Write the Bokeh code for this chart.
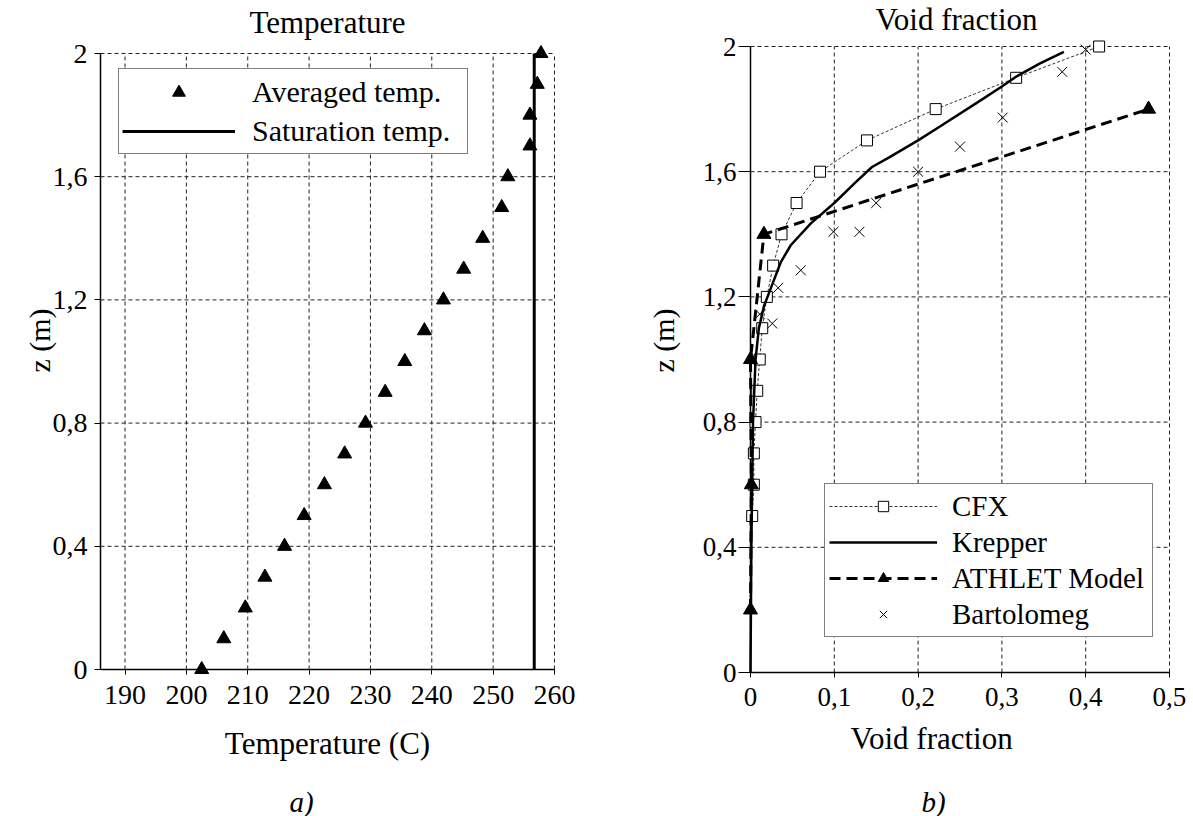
import math

from bokeh.embed import file_html
from bokeh.layouts import column, row
from bokeh.models import (CustomJSTickFormatter, FixedTicker, Label, Legend,
                          LegendItem, Range1d)
from bokeh.plotting import figure
from bokeh.resources import INLINE

# ---------------- data ----------------
# (a) temperature profile along the heated channel
z_temp = [0.0, 0.1, 0.2, 0.3, 0.4, 0.5, 0.6, 0.7, 0.8, 0.9, 1.0,
          1.1, 1.2, 1.3, 1.4, 1.5, 1.6, 1.7, 1.8, 1.9, 2.0]
avg_temp = [202.5, 206.1, 209.6, 212.8, 216.0, 219.2, 222.5, 225.8, 229.2, 232.4, 235.6,
            238.8, 241.9, 245.2, 248.3, 251.4, 252.4, 256.0, 256.0, 257.2, 257.8]
sat_temp = 256.7
sat_z = [0.0, 2.0]

# (b) void fraction profiles
cfx_z = [0.5, 0.6, 0.7, 0.8, 0.9, 1.0, 1.1, 1.2, 1.3, 1.4, 1.5, 1.6, 1.7, 1.8, 1.9, 2.0]
cfx_void = [0.002, 0.004, 0.004, 0.006, 0.008, 0.011, 0.014, 0.0195, 0.027, 0.037,
            0.055, 0.083, 0.139, 0.221, 0.317, 0.416]

krepper_z = [0.0, 0.4, 0.8, 1.0, 1.1, 1.17, 1.24, 1.31, 1.365, 1.435, 1.5, 1.565,
             1.615, 1.645, 1.7, 1.746, 1.82, 1.872, 1.902, 1.945, 1.983]
krepper_void = [0.0, 0.001, 0.003, 0.006, 0.010, 0.016, 0.026, 0.036, 0.048, 0.072, 0.100,
                0.125, 0.145, 0.165, 0.200, 0.227, 0.270, 0.300, 0.316, 0.345, 0.374]

athlet_z = [0.2, 0.6, 1.0, 1.4, 1.8]
athlet_void = [0.0, 0.001, 0.0, 0.016, 0.475]

bart_z = [1.145, 1.115, 1.229, 1.285, 1.408, 1.408, 1.5, 1.6, 1.68, 1.773, 1.919, 1.99]
bart_void = [0.011, 0.026, 0.033, 0.060, 0.099, 0.130, 0.150, 0.200, 0.250, 0.301, 0.372, 0.400]

temp_ticks = [190, 200, 210, 220, 230, 240, 250, 260]
z_ticks = [0, 0.4, 0.8, 1.2, 1.6, 2.0]
void_ticks = [0, 0.1, 0.2, 0.3, 0.4, 0.5]

FONT = "Liberation Serif"
comma_fmt = CustomJSTickFormatter(
    code="return (Math.round(tick*10)/10).toString().replace('.', ',');")


def dashed_grid(p, xticks, yticks, xlim, ylim):
    """Dashed grid limited to the axis extent (markers may overhang it)."""
    p.segment(x0=xticks, y0=[ylim[0]] * len(xticks), x1=xticks, y1=[ylim[1]] * len(xticks),
              line_color="#222222", line_width=1, line_dash="4 3")
    p.segment(x0=[xlim[0]] * len(yticks), y0=yticks, x1=[xlim[1]] * len(yticks), y1=yticks,
              line_color="#222222", line_width=1, line_dash="4 3")


def axis_lines(p, xlim, ylim, with_y):
    """Solid axis lines through the origin of the data window."""
    p.segment(x0=[xlim[0]], y0=[ylim[0]], x1=[xlim[1]], y1=[ylim[0]],
              line_color="black", line_width=1.5)
    if with_y:
        p.segment(x0=[xlim[0]], y0=[ylim[0]], x1=[xlim[0]], y1=[ylim[1]],
                  line_color="black", line_width=1.5)


def style_axes(p, tick_size, xlim, ylim, x_tick, y_tick, y_standoff, x_standoff,
               ylabel_standoff, y_line):
    xa, ya = p.xaxis[0], p.yaxis[0]
    for ax in (xa, ya):
        ax.major_tick_line_color = "black"
        ax.minor_tick_line_color = None
        ax.major_label_text_font = FONT
        ax.major_label_text_font_size = tick_size
        ax.major_label_text_color = "black"
        ax.formatter = comma_fmt
    xa.bounds = xlim
    ya.bounds = ylim
    xa.axis_line_color = None
    ya.axis_line_color = "black" if y_line else None
    ya.axis_line_width = 1.5
    xa.major_tick_in, xa.major_tick_out = x_tick
    ya.major_tick_in, ya.major_tick_out = y_tick
    ya.major_label_standoff = y_standoff
    xa.major_label_standoff = x_standoff
    ya.axis_label = "z (m)"
    ya.axis_label_text_font = FONT
    ya.axis_label_text_font_size = "30px"
    ya.axis_label_text_font_style = "normal"
    ya.axis_label_text_color = "black"
    ya.axis_label_standoff = ylabel_standoff
    p.xgrid.visible = False
    p.ygrid.visible = False
    p.outline_line_color = None


def text(p, txt, x, y, size="31px", style="normal"):
    p.add_layout(Label(x=x, y=y, x_units="screen", y_units="screen", text=txt,
                       text_align="center", text_baseline="alphabetic",
                       text_font=FONT, text_font_size=size,
                       text_font_style=style, text_color="black"))


# ---------------- (a) Temperature ----------------
# the frame reaches the top of the page so the panel title sits inside it
t_lim = (186, 260)
z_lim = (0, 2)
pa = figure(frame_width=456, frame_height=680, min_border_left=100,
            min_border_right=44, min_border_top=0, min_border_bottom=38,
            x_range=Range1d(186, 260.33), y_range=Range1d(-0.035714, 2.17208),
            output_backend="svg", toolbar_location=None, title=None,
            background_fill_color="white", border_fill_color="white")
pa.xaxis.ticker = FixedTicker(ticks=temp_ticks)
pa.yaxis.ticker = FixedTicker(ticks=z_ticks)
style_axes(pa, "28px", t_lim, z_lim, (11, -6), (0, 6), 7, 5, -6, True)
dashed_grid(pa, temp_ticks, z_ticks, t_lim, z_lim)
axis_lines(pa, t_lim, z_lim, with_y=False)

r_avg = pa.scatter(avg_temp, z_temp, marker="triangle", size=14,
                   fill_color="black", line_color="black")
r_sat = pa.line([sat_temp, sat_temp], sat_z, line_color="black", line_width=3)

leg_a = Legend(items=[LegendItem(label="Averaged temp.", renderers=[r_avg]),
                      LegendItem(label="Saturation temp.", renderers=[r_sat])],
               location=(18, 526), padding=3, spacing=0, margin=0,
               glyph_width=113, glyph_height=32, label_height=39, label_width=212,
               label_standoff=17, label_text_font=FONT, label_text_font_size="30px",
               label_text_color="black", label_text_baseline="middle",
               border_line_color="black", border_line_width=1,
               background_fill_color="white", background_fill_alpha=1.0)
pa.add_layout(leg_a)
text(pa, "Temperature", 227, 658)

# ---------------- (b) Void fraction ----------------
v_lim = (0, 0.5)
pb = figure(frame_width=429, frame_height=680, min_border_left=142,
            min_border_right=22, min_border_top=0, min_border_bottom=38,
            x_range=Range1d(-0.00955, 0.5024), y_range=Range1d(-0.025559, 2.146965),
            output_backend="svg", toolbar_location=None, title=None,
            background_fill_color="white", border_fill_color="white")
pb.xaxis.ticker = FixedTicker(ticks=void_ticks)
pb.yaxis.ticker = FixedTicker(ticks=z_ticks)
style_axes(pb, "27px", v_lim, z_lim, (8, -3), (8, 4), 2, 7, 20, False)
dashed_grid(pb, void_ticks, z_ticks, v_lim, z_lim)
axis_lines(pb, v_lim, z_lim, with_y=True)

r_cfx_l = pb.line(cfx_void, cfx_z, line_color="black", line_width=0.8,
                  line_dash="3 2")
r_cfx_m = pb.scatter(cfx_void, cfx_z, marker="square", size=11,
                     fill_color="white", line_color="black", line_width=1)
r_kre = pb.line(krepper_void, krepper_z, line_color="black", line_width=2.5)
r_ath_l = pb.line(athlet_void, athlet_z, line_color="black", line_width=3,
                  line_dash="11 6")
r_ath_m = pb.scatter(athlet_void, athlet_z, marker="triangle", size=14,
                     fill_color="black", line_color="black")
r_bart = pb.scatter(bart_void, bart_z, marker="x", size=14,
                    line_color="black", line_width=1)

leg_b = Legend(items=[LegendItem(label="CFX", renderers=[r_cfx_l, r_cfx_m]),
                      LegendItem(label="Krepper", renderers=[r_kre]),
                      LegendItem(label="ATHLET Model", renderers=[r_ath_l, r_ath_m]),
                      LegendItem(label="Bartolomeg", renderers=[r_bart])],
               location=(82, 43), padding=4, spacing=0, margin=0,
               glyph_width=108, glyph_height=26, label_height=36, label_width=196,
               label_standoff=15, label_text_font=FONT, label_text_font_size="29px",
               label_text_color="black", label_text_baseline="middle",
               border_line_color="black", border_line_width=1,
               background_fill_color="white", background_fill_alpha=1.0)
pb.add_layout(leg_b)
text(pb, "Void fraction", 214, 661)

# ---------------- axis titles and panel captions ----------------
bottom = figure(width=1193, height=98, min_border=0, x_range=Range1d(0, 1),
                y_range=Range1d(0, 1), x_axis_type=None, y_axis_type=None,
                output_backend="svg", toolbar_location=None, title=None,
                background_fill_color="white", border_fill_color="white")
bottom.outline_line_color = None
text(bottom, "Temperature (C)", 327, 73)
text(bottom, "Void  fraction", 935, 78)
text(bottom, "a)", 301, 15, size="29px", style="italic")
text(bottom, "b)", 933, 15, size="29px", style="italic")

layout = column(row(pa, pb, spacing=0), bottom, spacing=0)
open("out.html", "w").write(file_html(layout, INLINE))
